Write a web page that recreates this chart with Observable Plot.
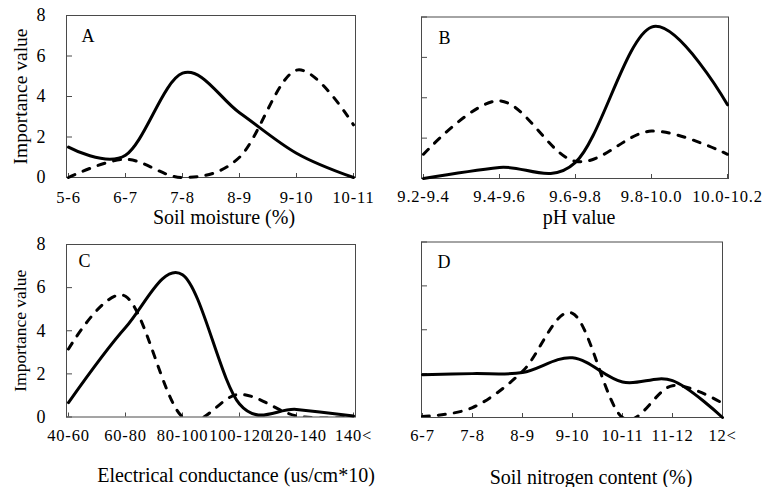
<!DOCTYPE html>
<html>
<head>
<meta charset="utf-8">
<script src="https://cdn.jsdelivr.net/npm/d3@7"></script>
<script src="https://cdn.jsdelivr.net/npm/@observablehq/plot@0.6"></script>
<style>
  html, body { margin: 0; padding: 0; background: #fff; }
  #chart { position: relative; width: 765px; height: 487px; background: #fff; overflow: hidden; }
  #chart svg { position: absolute; left: 0; top: 0; }
  #chart g[aria-label="x-axis tick label"] text { letter-spacing: 0.8px; }
</style>
</head>
<body>
<div id="chart"></div>
<script>
// ---- data ----
const moistureCats   = ["5-6", "6-7", "7-8", "8-9", "9-10", "10-11"];
const moistureSolid  = [1.5, 1.1, 5.15, 3.2, 1.2, 0.0];
const moistureDashed = [0.0, 0.9, 0.0, 1.0, 5.3, 2.6];

const phCats   = ["9.2-9.4", "9.4-9.6", "9.6-9.8", "9.8-10.0", "10.0-10.2"];
const phSolid  = [0.0, 0.55, 0.8, 7.5, 3.65];
const phDashed = [1.2, 3.85, 0.85, 2.35, 1.2];

const ecCats   = ["40-60", "60-80", "80-100", "100-120", "120-140", "140<"];
const ecSolid  = [0.67, 4.15, 6.6, 0.6, 0.35, 0.05];
const ecDashed = [3.15, 5.6, 0.0, 1.05, 0.05, 0.0];

const nCats   = ["6-7", "7-8", "8-9", "9-10", "10-11", "11-12", "12<"];
const nSolid  = [1.95, 2.0, 2.05, 2.72, 1.62, 1.68, 0.0];
const nDashed = [0.05, 0.45, 2.1, 4.75, 0.0, 1.45, 0.65];

const yTicks = [0, 2, 4, 6, 8];
const yTitle = "Importance value";

// ---- drawing ----
const W = 765, H = 487;
const chart = document.getElementById("chart");

function panel(cfg) {
  const rows = cfg.cats.map((c, i) => ({cat: c, solid: cfg.solid[i], dashed: cfg.dashed[i]}));
  const [l, t, r, b] = cfg.frame;
  const marks = [
    Plot.frame({stroke: "#4a4a4a", strokeWidth: 1}),
    Plot.axisY({ticks: yTicks, tickSize: 6, dx: 6, fill: "none", stroke: "#4a4a4a", label: null}),
    Plot.axisX({tickSize: 4, dy: -4, fill: "none", stroke: "#4a4a4a", label: null}),
    Plot.axisX({tickSize: 0, tickPadding: cfg.xPad, fontSize: 16.5, label: null, fill: "#000"}),
    Plot.line(rows, {x: "cat", y: "dashed", curve: "cardinal", stroke: "#000", strokeWidth: 3,
      strokeDasharray: "7,9", clip: cfg.clip}),
    Plot.line(rows, {x: "cat", y: "solid", curve: "cardinal", stroke: "#000", strokeWidth: 3}),
    Plot.text([cfg.letter], {frameAnchor: "top-left", textAnchor: "start", lineAnchor: "top",
      dx: cfg.letterDx, dy: cfg.letterDy, fontSize: 18, fill: "#000"}),
    Plot.text([cfg.xTitle], {frameAnchor: "bottom", textAnchor: "middle", lineAnchor: "top",
      dx: cfg.titleDx, dy: cfg.titleDy, fontSize: 20, fill: "#000", ariaLabel: "x-title"})
  ];
  if (cfg.yLabels) {
    marks.push(Plot.axisY({ticks: yTicks, tickSize: 0, tickPadding: 21, fontSize: 18, label: null, fill: "#000"}));
    marks.push(Plot.text([yTitle], {frameAnchor: "left", textAnchor: "middle", rotate: -90, lineAnchor: "middle",
      dx: -46, fontSize: cfg.yTitleSize, fill: "#000", ariaLabel: "y-title"}));
  }
  const svg = Plot.plot({
    width: W, height: H,
    marginLeft: l, marginTop: t, marginRight: W - r, marginBottom: H - b,
    style: {fontFamily: "'Liberation Serif', 'Times New Roman', serif", background: "none", color: "#000", overflow: "visible"},
    x: {type: "point", domain: cfg.cats, padding: 0},
    y: {domain: [0, 8]},
    marks
  });
  d3.select(svg).selectAll('g[aria-label="x-title"] text').style("letter-spacing", cfg.titleSpacing + "px");
  d3.select(svg).selectAll('g[aria-label="y-title"] text').style("letter-spacing", (cfg.yTitleSpacing || 0) + "px");
  chart.appendChild(svg);
}

panel({cats: moistureCats, solid: moistureSolid, dashed: moistureDashed, letter: "A",
  xTitle: "Soil moisture (%)", frame: [66, 15, 355, 177], xPad: 13.5, titleDx: 13, titleDy: 32, titleSpacing: 1,
  letterDx: 15, letterDy: 14, yLabels: true, yTitleSize: 19.5, yTitleSpacing: 1, clip: false});
panel({cats: phCats, solid: phSolid, dashed: phDashed, letter: "B",
  xTitle: "pH value", frame: [421, 16.5, 728, 178], xPad: 12, titleDx: 4, titleDy: 31, titleSpacing: 0.4,
  letterDx: 17, letterDy: 14, yLabels: false, clip: false});
panel({cats: ecCats, solid: ecSolid, dashed: ecDashed, letter: "C",
  xTitle: "Electrical conductance (us/cm*10)", frame: [66, 244, 355, 416.5], xPad: 12.5, titleDx: 25, titleDy: 51, titleSpacing: 0.3,
  letterDx: 12, letterDy: 10, yLabels: true, yTitleSize: 17.5, yTitleSpacing: 0.4, clip: true});
panel({cats: nCats, solid: nSolid, dashed: nDashed, letter: "D",
  xTitle: "Soil nitrogen content (%)", frame: [421, 241.5, 722, 417], xPad: 11.5, titleDx: 19, titleDy: 52, titleSpacing: 0.2,
  letterDx: 16, letterDy: 13, yLabels: false, clip: true});
</script>
</body>
</html>
